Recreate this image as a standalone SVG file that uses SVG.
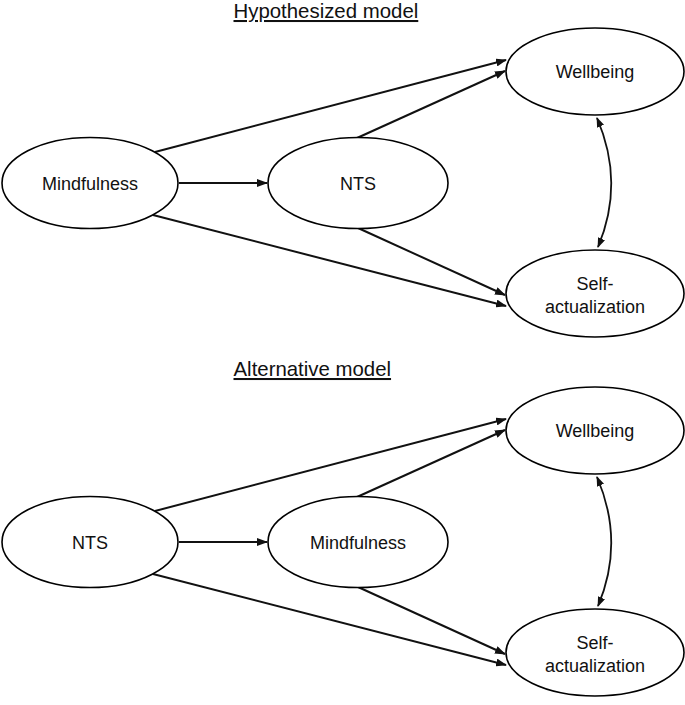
<svg xmlns="http://www.w3.org/2000/svg" width="685" height="705" viewBox="0 0 685 705">
<style>
.node ellipse{fill:#fff;stroke:#000;stroke-width:1.6}
.node text,.lbl{font-family:"Liberation Sans",Arial,Helvetica,sans-serif;font-size:18px;fill:#111;text-anchor:middle}
.title{font-family:"Liberation Sans",Arial,Helvetica,sans-serif;font-size:20.4px;fill:#111;text-decoration:underline}
.edge{fill:none;stroke:#111;stroke-width:2;marker-end:url(#ah)}
.bi{fill:none;stroke:#111;stroke-width:1.8;marker-start:url(#ah2);marker-end:url(#ah2)}
</style>
<defs>
<marker id="ah" markerUnits="userSpaceOnUse" markerWidth="11" markerHeight="8" refX="10" refY="4" orient="auto"><path d="M0,0 L11,4 L0,8 z" fill="#111"/></marker>
<marker id="ah2" markerUnits="userSpaceOnUse" markerWidth="10" markerHeight="8" refX="9" refY="3.75" orient="auto-start-reverse"><path d="M0,0 L10,3.75 L0,7.5 z" fill="#111"/></marker>
</defs>
<rect width="685" height="705" fill="#fff"/>
<text class="title" x="233.5" y="18">Hypothesized model</text>
<text class="title" x="233.5" y="376">Alternative model</text>
<g id="connectors">
<line class="edge" x1="155" y1="152" x2="506" y2="60"/>
<line class="edge" x1="357" y1="138" x2="505" y2="71"/>
<line class="edge" x1="179" y1="183" x2="267" y2="183"/>
<line class="edge" x1="153" y1="215" x2="506" y2="306"/>
<line class="edge" x1="358" y1="228" x2="505" y2="295"/>
<path class="bi" d="M597,118 Q625,183 598,247"/>
<line class="edge" x1="155" y1="511" x2="506" y2="419"/>
<line class="edge" x1="357" y1="497" x2="505" y2="430"/>
<line class="edge" x1="179" y1="542" x2="267" y2="542"/>
<line class="edge" x1="153" y1="574" x2="506" y2="665"/>
<line class="edge" x1="358" y1="587" x2="505" y2="654"/>
<path class="bi" d="M597,477 Q625,542 598,606"/>
</g>
<g id="n-mindfulness-1" class="node"><ellipse cx="90" cy="183" rx="88" ry="45.5"/><text x="90" y="189.5">Mindfulness</text></g>
<g id="n-nts-1" class="node"><ellipse cx="358" cy="183" rx="90" ry="45.5"/><text x="358" y="189.5">NTS</text></g>
<g id="n-wellbeing-1" class="node"><ellipse cx="595" cy="71.5" rx="89" ry="43.5"/><text x="595" y="78">Wellbeing</text></g>
<g id="n-self-1" class="node"><ellipse cx="595" cy="293.5" rx="89" ry="43.5"/><text x="595" y="290">Self-</text><text x="595" y="313">actualization</text></g>
<g id="n-nts-2" class="node"><ellipse cx="90" cy="542" rx="88" ry="45.5"/><text x="90" y="548.5">NTS</text></g>
<g id="n-mindfulness-2" class="node"><ellipse cx="358" cy="542" rx="90" ry="45.5"/><text x="358" y="548.5">Mindfulness</text></g>
<g id="n-wellbeing-2" class="node"><ellipse cx="595" cy="430.5" rx="89" ry="43.5"/><text x="595" y="437">Wellbeing</text></g>
<g id="n-self-2" class="node"><ellipse cx="595" cy="652.5" rx="89" ry="43.5"/><text x="595" y="649">Self-</text><text x="595" y="672">actualization</text></g>
</svg>
